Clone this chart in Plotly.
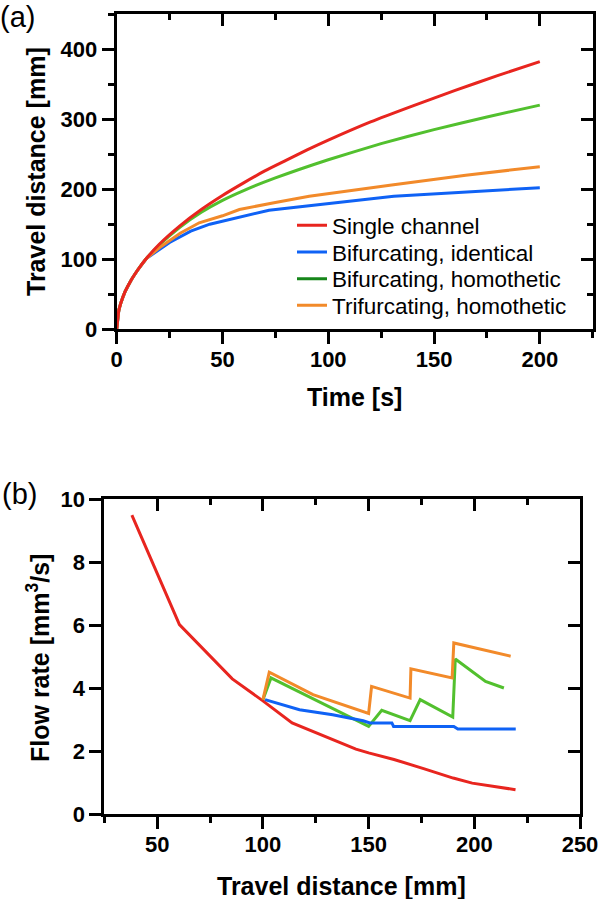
import plotly.graph_objects as go

# ---------------- Panel (a): travel distance vs time ----------------
a_single_t = [0, 1, 2, 4, 7, 10, 14, 20, 30, 40, 50, 60, 70, 80, 90, 100, 120, 140, 160, 180, 200]
a_single_d = [0, 27, 38, 54, 71, 85, 101, 121, 148, 171, 191, 209, 226, 241, 256, 270, 296, 319, 341, 362, 382]

a_bi_id_t = [0, 1, 2, 4, 7, 10, 14, 25, 35, 44, 72, 131, 200]
a_bi_id_d = [0, 27, 38, 54, 71, 85, 101, 124, 140, 150, 170, 190, 202]

a_bi_ho_t = [0, 1, 2, 4, 7, 10, 14, 20, 30, 40, 50, 60, 75, 100, 125, 150, 175, 200]
a_bi_ho_d = [0, 27, 38, 54, 71, 85, 101, 120, 146, 167, 184, 198, 216, 242, 265, 285, 303, 320]

a_tri_t = [0, 1, 2, 4, 7, 10, 14, 20, 30, 39, 50, 58, 75, 91, 130, 165, 200]
a_tri_d = [0, 27, 38, 54, 71, 85, 101, 116, 137, 152, 162, 171, 181, 190, 206, 220, 232]

# ---------------- Panel (b): flow rate vs travel distance ----------------
b_single_x = [38, 60.5, 85.5, 100, 113.8, 125, 144, 150, 162, 176, 190, 199, 219.5]
b_single_q = [9.5, 6.02, 4.3, 3.6, 2.9, 2.6, 2.07, 1.95, 1.74, 1.45, 1.15, 0.99, 0.78]

b_bi_id_x = [101, 109.4, 117.3, 133, 147.4, 150.6, 161, 161.8, 190.3, 192.2, 219.6]
b_bi_id_q = [3.64, 3.48, 3.32, 3.16, 2.97, 2.90, 2.90, 2.79, 2.79, 2.71, 2.71]

b_bi_ho_x = [100, 103.8, 150, 156.2, 169.6, 174.4, 189.8, 191, 205.3, 214]
b_bi_ho_q = [3.64, 4.33, 2.79, 3.30, 2.97, 3.64, 3.09, 4.93, 4.22, 4.01]

b_tri_x = [100, 103, 123.7, 150, 151.4, 169.6, 170, 189.5, 190.3, 217.2]
b_tri_q = [3.64, 4.51, 3.80, 3.20, 4.06, 3.69, 4.62, 4.33, 5.44, 5.02]

names = ["Single channel", "Bifurcating, identical", "Bifurcating, homothetic", "Trifurcating, homothetic"]
RED, BLUE, GREEN, ORANGE = "#E8251F", "#0F62F5", "#52C02E", "#F28A2A"
GREEN_LEG = "#16861A"

FONT = "Liberation Sans, Arial, sans-serif"
W, H = 600, 899

fig = go.Figure()
LW = 3

# panel (a) traces (red on top)
fig.add_trace(go.Scatter(x=a_bi_id_t, y=a_bi_id_d, mode="lines", line=dict(color=BLUE, width=LW), showlegend=False, xaxis="x", yaxis="y"))
fig.add_trace(go.Scatter(x=a_bi_ho_t, y=a_bi_ho_d, mode="lines", line=dict(color=GREEN, width=LW, shape="spline", smoothing=0.5), showlegend=False, xaxis="x", yaxis="y"))
fig.add_trace(go.Scatter(x=a_tri_t, y=a_tri_d, mode="lines", line=dict(color=ORANGE, width=LW), showlegend=False, xaxis="x", yaxis="y"))
fig.add_trace(go.Scatter(x=a_single_t, y=a_single_d, mode="lines", line=dict(color=RED, width=LW, shape="spline", smoothing=0.5), showlegend=False, xaxis="x", yaxis="y"))

# panel (b) traces
fig.add_trace(go.Scatter(x=b_single_x, y=b_single_q, mode="lines", line=dict(color=RED, width=LW), showlegend=False, xaxis="x2", yaxis="y2"))
fig.add_trace(go.Scatter(x=b_bi_ho_x, y=b_bi_ho_q, mode="lines", line=dict(color=GREEN, width=LW), showlegend=False, xaxis="x2", yaxis="y2"))
fig.add_trace(go.Scatter(x=b_tri_x, y=b_tri_q, mode="lines", line=dict(color=ORANGE, width=LW), showlegend=False, xaxis="x2", yaxis="y2"))
fig.add_trace(go.Scatter(x=b_bi_id_x, y=b_bi_id_q, mode="lines", line=dict(color=BLUE, width=LW), showlegend=False, xaxis="x2", yaxis="y2"))

# legend-only entries, one legend per row so the row spacing can match
legend_ids = ["legend", "legend2", "legend3", "legend4"]
for nm, col, lg in zip(names, [RED, BLUE, GREEN_LEG, ORANGE], legend_ids):
    fig.add_trace(go.Scatter(x=[None], y=[None], mode="lines", name=nm, line=dict(color=col, width=3),
                             xaxis="x", yaxis="y", legend=lg))

# dummy traces so mirror axes are drawn
for xa, ya in [("x3", "y"), ("x", "y3"), ("x4", "y2"), ("x2", "y4")]:
    fig.add_trace(go.Scatter(x=[None], y=[None], mode="lines", showlegend=False, hoverinfo="skip", xaxis=xa, yaxis=ya))

def px_x(p):
    return p / W

def px_y(p):
    return (H - p) / H

tickfont = dict(family=FONT, size=22, color="black", weight="bold")
common = dict(showgrid=False, zeroline=False, showline=True, linecolor="black", linewidth=3,
              tickcolor="black", tickwidth=2.5, ticklen=12, automargin=False)

xa_dom = [px_x(116.7), px_x(592.7)]
ya_dom = [px_y(329.3), px_y(14)]
xb_dom = [px_x(104.4), px_x(580)]
yb_dom = [px_y(814.3), px_y(499.3)]

legfont = dict(family=FONT, size=22.5, color="black")
row_y = [225.7, 252.3, 279.0, 305.7]
legends = {}
for lg, ry in zip(legend_ids, row_y):
    legends[lg] = dict(x=px_x(292), y=px_y(ry), xanchor="left", yanchor="middle", font=legfont,
                       bgcolor="rgba(0,0,0,0)", borderwidth=0, itemwidth=30)

fig.update_layout(
    width=W, height=H, margin=dict(l=0, r=0, t=0, b=0, autoexpand=False),
    paper_bgcolor="white", plot_bgcolor="white",
    font=dict(family=FONT, color="black"),
    showlegend=True,
    **legends,
    xaxis=dict(domain=xa_dom, anchor="y", range=[0, 225], tick0=0, dtick=50, ticks="outside",
               tickfont=tickfont, ticklabelstandoff=-4,
               minor=dict(dtick=25, ticks="outside", ticklen=6, tickwidth=2.5, tickcolor="black"),
               **common),
    yaxis=dict(domain=ya_dom, anchor="x", range=[0, 450], tick0=0, dtick=100, ticks="outside",
               tickfont=tickfont, minor=dict(dtick=50, ticks="outside", ticklen=6, tickwidth=2.5, tickcolor="black"),
               **common),
    xaxis3=dict(overlaying="x", anchor="y", side="top", range=[0, 225], tick0=0, dtick=50, ticks="inside",
                showticklabels=False, minor=dict(dtick=25, ticks="inside", ticklen=6, tickwidth=2.5, tickcolor="black"),
                **common),
    yaxis3=dict(overlaying="y", anchor="x", side="right", range=[0, 450], tick0=0, dtick=100, ticks="inside",
                showticklabels=False, minor=dict(dtick=50, ticks="inside", ticklen=6, tickwidth=2.5, tickcolor="black"),
                **common),
    xaxis2=dict(domain=xb_dom, anchor="y2", range=[25, 250], tick0=0, dtick=50, ticks="outside",
                tickfont=tickfont, ticklabelstandoff=-4,
                minor=dict(dtick=25, ticks="outside", ticklen=6, tickwidth=2.5, tickcolor="black"),
                **common),
    yaxis2=dict(domain=yb_dom, anchor="x2", range=[0, 10], tick0=0, dtick=2, ticks="outside",
                tickfont=tickfont, **common),
    xaxis4=dict(overlaying="x2", anchor="y2", side="top", range=[25, 250], tick0=0, dtick=50, ticks="inside",
                showticklabels=False, minor=dict(dtick=25, ticks="inside", ticklen=6, tickwidth=2.5, tickcolor="black"),
                **common),
    yaxis4=dict(overlaying="y2", anchor="x2", side="right", range=[0, 10], tick0=0, dtick=2, ticks="inside",
                showticklabels=False, **common),
)

titlefont = dict(family=FONT, size=25, color="black", weight="bold")
labfont = dict(family=FONT, size=29, color="black")
ann = [
    dict(text="Time [s]", x=px_x(354.7), y=px_y(397), font=titlefont),
    dict(text="Travel distance [mm]", x=px_x(36), y=px_y(172), font=titlefont, textangle=-90),
    dict(text="Travel distance [mm]", x=px_x(342), y=px_y(886), font=titlefont),
    dict(text="Flow rate [mm<sup>3</sup>/s]", x=px_x(38), y=px_y(658), font=titlefont, textangle=-90),
    dict(text="(a)", x=px_x(17.5), y=px_y(17), font=labfont),
    dict(text="(b)", x=px_x(19), y=px_y(494), font=labfont),
]
for a in ann:
    fig.add_annotation(xref="paper", yref="paper", xanchor="center", yanchor="middle", showarrow=False, **a)

fig.write_html("out.html", config={"displayModeBar": False},
               post_script="document.body.style.margin='0';document.body.style.padding='0';")
